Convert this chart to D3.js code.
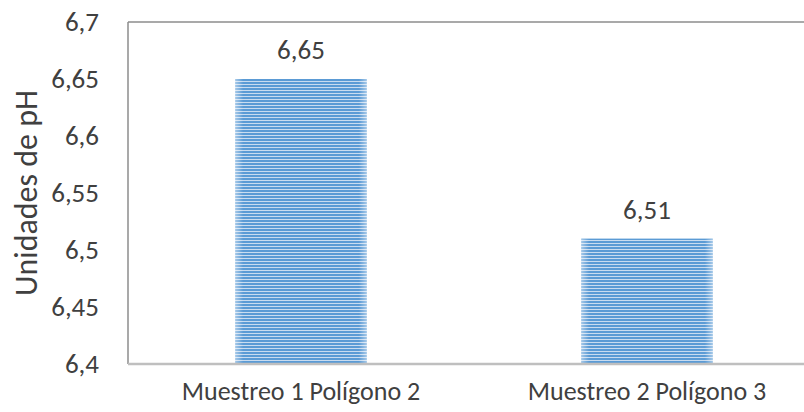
<!DOCTYPE html>
<html><head><meta charset="utf-8">
<script src="https://cdn.jsdelivr.net/npm/d3@7"></script>
<style>body{margin:0;background:#fff;} svg{display:block;} svg text{font-family:Carlito, Calibri, Lato, "Open Sans", sans-serif;}</style>
</head><body>
<script>
const categories = ["Muestreo 1 Polígono 2", "Muestreo 2 Polígono 3"];
const values = [6.65, 6.51];
const valueLabels = ["6,65", "6,51"];
const yTicks = [6.4, 6.45, 6.5, 6.55, 6.6, 6.65, 6.7];
const yTickLabels = ["6,4", "6,45", "6,5", "6,55", "6,6", "6,65", "6,7"];
const yTitle = "Unidades de pH";

const W = 804, H = 412;
const mLeft = 128, mTop = 22, mBottom = 364, mRight = 820;
const svg = d3.select("body").append("svg").attr("width", W).attr("height", H);

const defs = svg.append("defs");
const pat = defs.append("pattern").attr("id", "stripes").attr("patternUnits", "userSpaceOnUse")
  .attr("width", 6).attr("height", 3);
pat.append("rect").attr("width", 6).attr("height", 3).attr("fill", "#c9dcf0");
pat.append("rect").attr("y", 1).attr("width", 6).attr("height", 2).attr("fill", "#5b9bd5");
const grad = defs.append("linearGradient").attr("id", "edge").attr("x1", 0).attr("x2", 1);
grad.append("stop").attr("offset", 0).attr("stop-color", "#fff").attr("stop-opacity", 0.45);
grad.append("stop").attr("offset", 0.06).attr("stop-color", "#fff").attr("stop-opacity", 0);
grad.append("stop").attr("offset", 0.94).attr("stop-color", "#fff").attr("stop-opacity", 0);
grad.append("stop").attr("offset", 1).attr("stop-color", "#fff").attr("stop-opacity", 0.45);

const x = d3.scaleBand().domain(categories).range([mLeft, mRight]).paddingInner(0.62).paddingOuter(0.31);
const y = d3.scaleLinear().domain([6.4, 6.7]).range([mBottom, mTop]);

// plot frame (top and left)
svg.append("line").attr("x1", mLeft).attr("x2", W).attr("y1", mTop).attr("y2", mTop).attr("stroke", "#8c8c8c").attr("stroke-width", 1.5);
svg.append("line").attr("x1", mLeft).attr("x2", mLeft).attr("y1", mTop).attr("y2", mBottom).attr("stroke", "#8c8c8c").attr("stroke-width", 1.5);

// bars
const bars = svg.append("g");
categories.forEach((c, i) => {
  bars.append("rect").attr("x", x(c)).attr("y", y(values[i])).attr("width", x.bandwidth())
    .attr("height", y(6.4) - y(values[i])).attr("fill", "url(#stripes)");
  bars.append("rect").attr("x", x(c)).attr("y", y(values[i])).attr("width", x.bandwidth())
    .attr("height", y(6.4) - y(values[i])).attr("fill", "url(#edge)");
  svg.append("text").attr("x", x(c) + x.bandwidth() / 2).attr("y", y(values[i]) - 20)
    .attr("text-anchor", "middle").attr("font-size", 27).attr("fill", "#404040").text(valueLabels[i]);
});

// x axis baseline
svg.append("line").attr("x1", mLeft).attr("x2", W).attr("y1", mBottom).attr("y2", mBottom).attr("stroke", "#bfbfbf").attr("stroke-width", 2.5);

// y axis labels
const yAxis = d3.axisLeft(y).tickValues(yTicks).tickSize(0).tickPadding(0)
  .tickFormat((d, i) => yTickLabels[i]);
const gy = svg.append("g").attr("transform", "translate(99,0)").call(yAxis);
gy.attr("font-family", null).attr("font-size", null);
gy.select(".domain").remove();
gy.selectAll("text").attr("font-size", 27).attr("fill", "#404040").attr("dy", "0.33em");

// x labels
const gx = svg.append("g").attr("transform", `translate(0,${mBottom})`)
  .call(d3.axisBottom(x).tickSize(0).tickPadding(0));
gx.attr("font-family", null).attr("font-size", null);
gx.select(".domain").remove();
gx.selectAll("text").attr("font-size", 26).attr("fill", "#404040").attr("dy", null).attr("y", 36);

// y title
svg.append("text").attr("transform", `translate(37,${(mTop + mBottom) / 2}) rotate(-90)`)
  .attr("text-anchor", "middle").attr("font-size", 32).attr("fill", "#404040").text(yTitle);
</script>
</body></html>
